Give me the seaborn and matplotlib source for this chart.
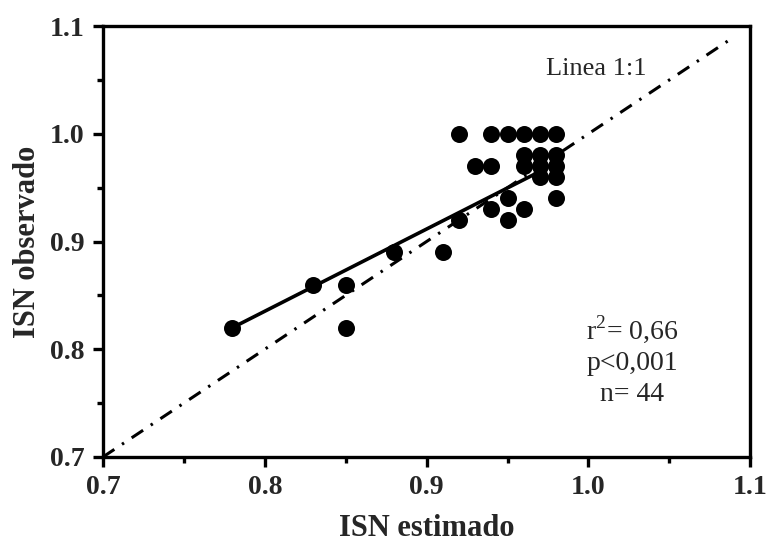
# ISN observado vs ISN estimado - scatter with fit and 1:1 line

import numpy as np
import pandas as pd
import matplotlib
matplotlib.use("Agg")
import matplotlib.pyplot as plt
import seaborn as sns
from matplotlib.ticker import MultipleLocator, FormatStrFormatter

# -----------------------------
# Data
# -----------------------------
isn_estimado = [0.78, 0.83, 0.85, 0.85, 0.88, 0.91, 0.92, 0.92, 0.93, 0.94,
                0.94, 0.95, 0.96, 0.97, 0.98,
                0.96, 0.97, 0.98, 0.96, 0.97, 0.98, 0.97, 0.98,
                0.95, 0.94, 0.96, 0.95, 0.98]
isn_observado = [0.82, 0.86, 0.86, 0.82, 0.89, 0.89, 0.92, 1.00, 0.97, 0.97,
                 1.00, 1.00, 1.00, 1.00, 1.00,
                 0.98, 0.98, 0.98, 0.97, 0.97, 0.97, 0.96, 0.96,
                 0.94, 0.93, 0.93, 0.92, 0.94]

# fitted line as printed in the figure (n = 44, some points overlap)
fit_x = [0.78, 0.97]
fit_y = [0.82, 0.965]

line_11 = [0.70, 1.09]
ticks = [0.7, 0.8, 0.9, 1.0, 1.1]
stats_lines = ["r$^{2}$= 0,66", "p<0,001", "n= 44"]

df = pd.DataFrame({"estimado": isn_estimado, "observado": isn_observado})

# -----------------------------
# Style
# -----------------------------
sns.set_theme(style="ticks")
plt.rcParams["font.family"] = ["Liberation Serif", "DejaVu Serif"]
plt.rcParams["mathtext.fontset"] = "custom"
plt.rcParams["mathtext.rm"] = "Liberation Serif"

fig = plt.figure(figsize=(7.68, 5.49), dpi=100)
ax = fig.add_axes([0.134, 0.1676, 0.843, 0.785])

# 1:1 line
sns.lineplot(x=line_11, y=line_11, ax=ax, color="black", lw=2.2,
             linestyle=(0, (4.5, 3, 0.8, 3)))

# fitted line
sns.lineplot(x=fit_x, y=fit_y, ax=ax, color="black", lw=2.6)

# points
sns.scatterplot(data=df, x="estimado", y="observado", ax=ax, color="black",
                s=150, edgecolor="black", linewidth=0, zorder=5)

ax.set_xlim(0.7, 1.1)
ax.set_ylim(0.7, 1.1)
ax.set_xticks(ticks)
ax.set_yticks(ticks)
ax.xaxis.set_minor_locator(MultipleLocator(0.05))
ax.yaxis.set_minor_locator(MultipleLocator(0.05))
ax.xaxis.set_major_formatter(FormatStrFormatter("%.1f"))
ax.yaxis.set_major_formatter(FormatStrFormatter("%.1f"))

for sp in ax.spines.values():
    sp.set_visible(True)
    sp.set_linewidth(2.4)
    sp.set_color("black")

ax.tick_params(which="major", direction="out", length=7, width=2.4,
               color="black", labelsize=20, pad=6)
ax.tick_params(which="minor", direction="out", length=4, width=2.4,
               color="black")
for lab in ax.get_xticklabels() + ax.get_yticklabels():
    lab.set_fontweight("bold")

ax.set_xlabel("ISN estimado", fontsize=22, fontweight="bold", labelpad=10)
ax.set_ylabel("ISN observado", fontsize=22, fontweight="bold", labelpad=6)

ax.text(1.005, 1.06, "Linea 1:1", fontsize=19, ha="center", va="center")
ax.text(1.027, 0.79, "\n".join(stats_lines), fontsize=20, ha="center",
        va="center", linespacing=1.3)

fig.savefig("out.png", dpi=100)
plt.close()
